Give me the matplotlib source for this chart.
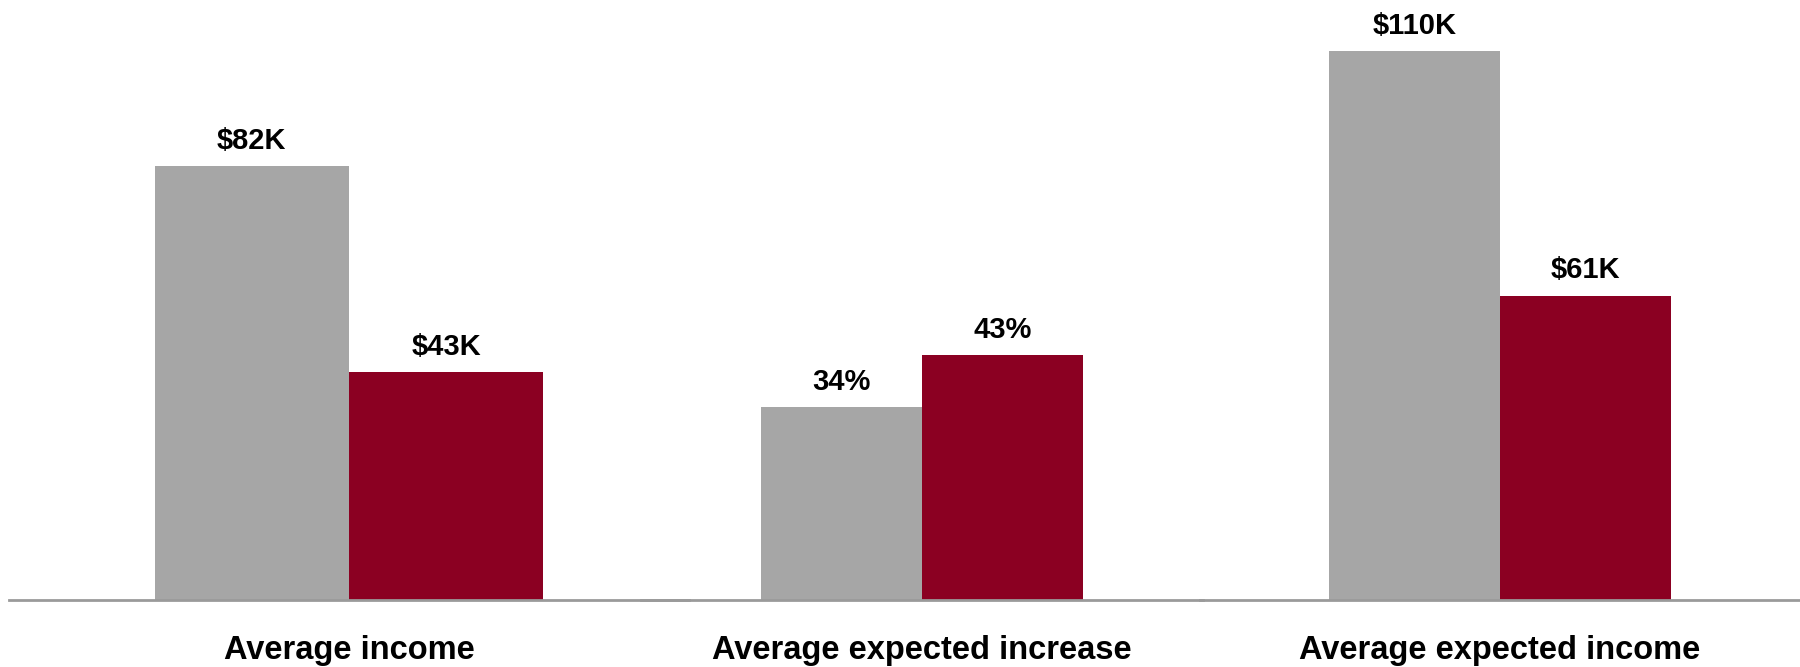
import matplotlib
matplotlib.use("Agg")
import matplotlib.pyplot as plt
from matplotlib import font_manager

categories = ["Average income", "Average expected increase", "Average expected income"]
gray_values = [82, 34, 110]
red_values = [43, 43, 61]
gray_labels = ["$82K", "34%", "$110K"]
red_labels = ["$43K", "43%", "$61K"]

names = {f.name for f in font_manager.fontManager.ttflist}
fam = [f for f in ["Liberation Sans Narrow", "Liberation Sans", "DejaVu Sans"] if f in names]
plt.rcParams['font.family'] = fam

W, H = 1800, 667
fig = plt.figure(figsize=(W / 100, H / 100), dpi=100)

# panel spans in pixels (left, right) and y top limits
spans = [(9, 689), (641, 1203), (1200, 1800)]
ytops = [113.4, 105.5, 120.2]
base_px = 600

GRAY = "#A6A6A6"
RED = "#8B0022"

for i, (l, r) in enumerate(spans):
    ax = fig.add_axes([l / W, (H - base_px) / H, (r - l) / W, base_px / H])
    ax.bar([0], [gray_values[i]], width=1.0, color=GRAY, align='center')
    ax.bar([1], [red_values[i]], width=1.0, color=RED, align='center')
    ax.set_xlim(0.5 - 1.75, 0.5 + 1.75)
    ax.set_ylim(0, ytops[i])
    for s in ["top", "left", "right"]:
        ax.spines[s].set_visible(False)
    ax.spines["bottom"].set_color("#9a9a9a")
    ax.spines["bottom"].set_linewidth(2)
    ax.set_yticks([])
    ax.set_xticks([0.5])
    ax.set_xticklabels([categories[i]], fontsize=23.5, fontweight='bold')
    ax.tick_params(axis='x', length=0, pad=25)
    ax.patch.set_alpha(0)
    for x, v, lab in [(0, gray_values[i], gray_labels[i]), (1, red_values[i], red_labels[i])]:
        ax.annotate(lab, (x, v), xytext=(0, 8), textcoords='offset points',
                    ha='center', va='bottom', fontsize=21, fontweight='bold')

fig.savefig("out.png", dpi=100, facecolor="white")
